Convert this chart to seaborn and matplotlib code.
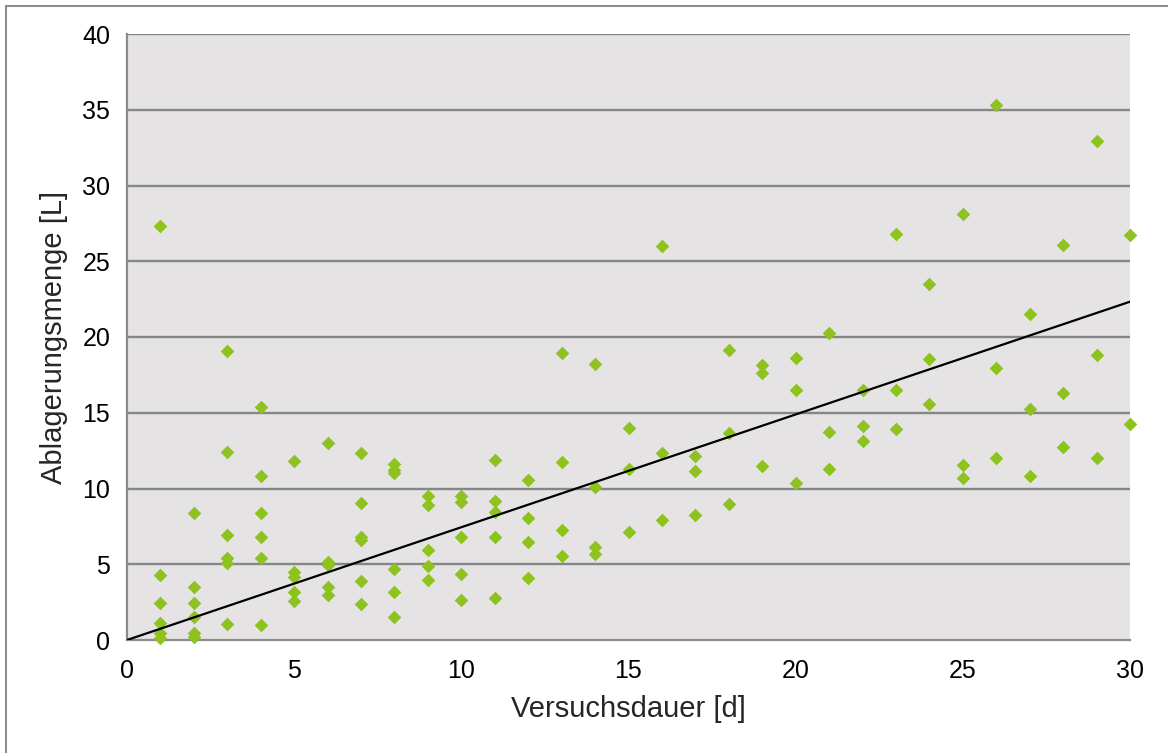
import numpy as np
import matplotlib
matplotlib.use("Agg")
import matplotlib.pyplot as plt
import seaborn as sns
import pandas as pd

# values, one list per day
days = list(range(1, 31))
amounts = [
    [27.3, 4.3, 2.46, 1.1, 0.44, 0.12],       # 1
    [8.36, 3.48, 2.46, 1.54, 0.44, 0.18],     # 2
    [19.1, 12.43, 6.93, 5.39, 5.06, 1.06],    # 3
    [15.4, 10.83, 8.36, 6.78, 5.43, 0.99],    # 4
    [11.82, 4.51, 4.18, 3.19, 2.57],          # 5
    [12.98, 5.17, 4.95, 3.52, 2.97],          # 6
    [12.37, 9.07, 6.78, 6.6, 3.89, 2.38],     # 7
    [11.65, 11.2, 11.0, 4.66, 3.19, 1.5],     # 8
    [9.5, 8.9, 5.94, 4.9, 3.96],              # 9
    [9.5, 9.13, 6.78, 4.33, 2.64],            # 10
    [11.88, 9.2, 8.47, 6.78, 2.75],           # 11
    [10.56, 8.03, 6.49, 4.07],                # 12
    [18.92, 11.77, 7.26, 5.57],               # 13
    [18.2, 10.12, 6.12, 5.68],                # 14
    [13.97, 11.27, 7.11],                     # 15
    [26.03, 12.37, 7.92],                     # 16
    [12.15, 11.18, 8.25],                     # 17
    [19.14, 13.64, 8.98],                     # 18
    [18.15, 17.65, 11.5],                     # 19
    [18.63, 16.47, 10.37],                    # 20
    [20.27, 13.76, 11.26],                    # 21
    [16.47, 14.12, 13.16],                    # 22
    [26.79, 16.52, 13.94],                    # 23
    [23.53, 18.55, 15.56],                    # 24
    [28.14, 11.52, 10.68],                    # 25
    [35.31, 17.98, 11.99],                    # 26
    [21.55, 15.24, 10.84],                    # 27
    [26.08, 16.29, 12.72],                    # 28
    [32.96, 18.84, 11.99],                    # 29
    [26.71, 14.28],                           # 30
]

x_ticks = [0, 5, 10, 15, 20, 25, 30]
y_ticks = [0, 5, 10, 15, 20, 25, 30, 35, 40]

rows = [(d, v) for d, vals in zip(days, amounts) for v in vals]
df = pd.DataFrame(rows, columns=["Versuchsdauer", "Ablagerungsmenge"])

sns.set_style("white")
plt.rcParams["font.family"] = ["Liberation Sans", "DejaVu Sans"]

fig = plt.figure(figsize=(11.68, 7.53), dpi=100)
ax = fig.add_axes([127 / 1168, 1 - 640 / 753, 1003 / 1168, 606 / 753])
ax.set_facecolor("#e5e3e3")

# outer chart frame (only top/left visible in the reference)
fig.patches.append(plt.Rectangle((6 / 1168, -0.05), 1.2, 1 - 6 / 753 + 0.05,
                                 transform=fig.transFigure, fill=False,
                                 edgecolor="#8c8c8c", linewidth=1.5))

for y in y_ticks[1:]:
    ax.axhline(y, color="#868686", linewidth=1.7, zorder=1)

sns.scatterplot(data=df, x="Versuchsdauer", y="Ablagerungsmenge", ax=ax,
                marker="D", s=48, color="#8dc21f", linewidth=0, zorder=3,
                clip_on=False)

# linear trend through origin
xs = df["Versuchsdauer"].to_numpy(float)
ys = df["Ablagerungsmenge"].to_numpy(float)
slope = (xs * ys).sum() / (xs * xs).sum()
line_x = np.array([0, 30])
ax.plot(line_x, slope * line_x, color="black", linewidth=1.6, zorder=4)

ax.set_xlim(0, 30)
ax.set_ylim(0, 40)
ax.set_xticks(x_ticks)
ax.set_yticks(y_ticks)
ax.tick_params(axis="both", direction="out", length=7, width=1.5,
               color="#8c8c8c", labelsize=18, labelcolor="black", pad=5)
ax.tick_params(axis="x", pad=7)

for side in ["top", "right"]:
    ax.spines[side].set_visible(False)
for side in ["left", "bottom"]:
    ax.spines[side].set_color("#8c8c8c")
    ax.spines[side].set_linewidth(1.6)

ax.set_xlabel("Versuchsdauer [d]", fontsize=21, labelpad=8)
ax.set_ylabel("Ablagerungsmenge [L]", fontsize=21, labelpad=10)

fig.savefig("out.png", dpi=100)
